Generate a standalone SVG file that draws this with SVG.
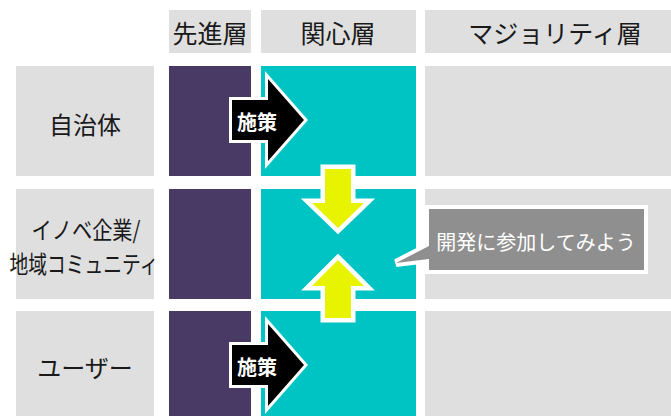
<svg xmlns="http://www.w3.org/2000/svg" width="671" height="416" viewBox="0 0 671 416">
<defs>
<style>
.hd{fill:#dfdfdf}
.pu{fill:#483a65}
.cy{fill:#00c3c3}
.t{font-family:"Noto Sans CJK JP","Noto Sans",sans-serif;fill:#1a1a1a;text-anchor:middle;dominant-baseline:central}
.w{font-family:"Noto Sans CJK JP","Noto Sans",sans-serif;fill:#ffffff;text-anchor:middle;dominant-baseline:central}
.blk{fill:#000000;stroke:#ffffff;stroke-width:6;stroke-linejoin:miter;paint-order:stroke}
.yel{fill:#e8f300;stroke:#ffffff;stroke-width:9;stroke-linejoin:miter;paint-order:stroke}
.bub{fill:#8f8f8f;stroke:#ffffff;stroke-width:8;stroke-linejoin:miter;paint-order:stroke}
</style>
</defs>
<rect width="671" height="416" fill="#ffffff"/>
<g id="header">
<g id="h-sensin"><rect class="hd" x="169" y="10" width="82" height="43"/><text class="t" x="210" y="32" font-size="25">先進層</text></g>
<g id="h-kanshin"><rect class="hd" x="261" y="10" width="155" height="43"/><text class="t" x="338" y="32" font-size="25">関心層</text></g>
<g id="h-majority"><rect class="hd" x="425" y="10" width="246" height="43"/><text class="t" x="555" y="32" font-size="25">マジョリティ層</text></g>
</g>
<g id="row1">
<rect class="hd" x="16" y="66" width="138" height="110"/>
<text class="t" x="85" y="123" font-size="24">自治体</text>
<rect class="pu" x="169" y="66" width="82" height="110"/>
<rect class="cy" x="261" y="66" width="155" height="110"/>
<rect class="hd" x="425" y="66" width="246" height="110"/>
</g>
<g id="row2">
<rect class="hd" x="16" y="189" width="138" height="110"/>
<text class="t" x="86" y="228" font-size="24" textLength="109" lengthAdjust="spacingAndGlyphs">イノベ企業/</text>
<text class="t" x="84" y="262" font-size="24" textLength="149" lengthAdjust="spacingAndGlyphs">地域コミュニティ</text>
<rect class="pu" x="169" y="189" width="82" height="110"/>
<rect class="cy" x="261" y="189" width="155" height="110"/>
<rect class="hd" x="425" y="189" width="246" height="110"/>
</g>
<g id="row3">
<rect class="hd" x="16" y="311" width="138" height="105"/>
<text class="t" x="85" y="366" font-size="24">ユーザー</text>
<rect class="pu" x="169" y="311" width="82" height="105"/>
<rect class="cy" x="261" y="311" width="155" height="105"/>
<rect class="hd" x="425" y="311" width="246" height="105"/>
</g>
<g id="connectors">
<g id="arrow1">
<path class="blk" d="M232,100 H268 V79 L304,120 L268,161 V140 H232 Z"/>
<text class="w" x="257" y="121" font-size="20" font-weight="bold">施策</text>
</g>
<g id="arrow2">
<path class="blk" d="M232,345 H268 V324 L304,365 L268,406 V385 H232 Z"/>
<text class="w" x="257" y="366" font-size="20" font-weight="bold">施策</text>
</g>
<path id="down" class="yel" d="M325,169 H351 V203 H364 L338,228 L312,203 H325 Z"/>
<path id="up" class="yel" d="M338,260 L364,286 H351 V318 H325 V286 H312 Z"/>
</g>
<g id="bubble">
<path class="bub" d="M429,209 H644 V270 H429 V259 L396,263 L429,246 Z"/>
<text class="w" x="536" y="241" font-size="20">開発に参加してみよう</text>
</g>
</svg>
